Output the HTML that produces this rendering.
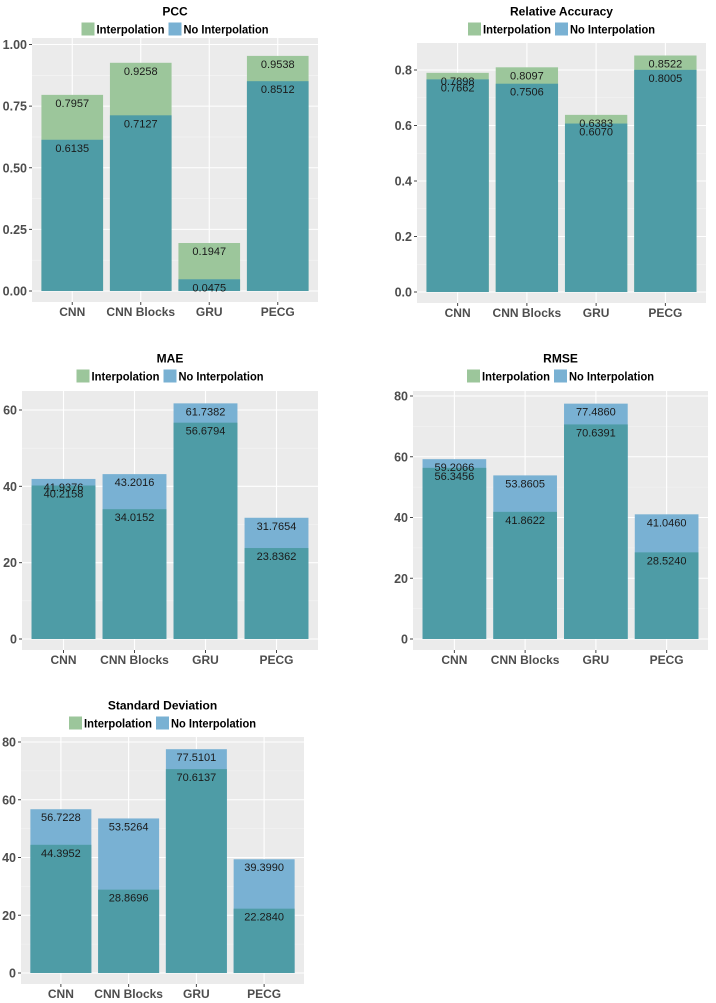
<!DOCTYPE html>
<html><head><meta charset="utf-8"><style>
html,body{margin:0;padding:0;background:#fff;}
svg{display:block;font-family:"Liberation Sans",Arial,sans-serif;}
</style></head><body>
<svg id="chart" width="716" height="1003" viewBox="0 0 716 1003"></svg>
<script>
const categories = ["CNN", "CNN Blocks", "GRU", "PECG"];
const pccInterp = [0.7957, 0.9258, 0.1947, 0.9538];
const pccNoInterp = [0.6135, 0.7127, 0.0475, 0.8512];
const raInterp = [0.7898, 0.8097, 0.6383, 0.8522];
const raNoInterp = [0.7662, 0.7506, 0.6070, 0.8005];
const maeInterp = [40.2158, 34.0152, 56.6794, 23.8362];
const maeNoInterp = [41.9376, 43.2016, 61.7382, 31.7654];
const rmseInterp = [56.3456, 41.8622, 70.6391, 28.5240];
const rmseNoInterp = [59.2066, 53.8605, 77.4860, 41.0460];
const sdInterp = [44.3952, 28.8696, 70.6137, 22.2840];
const sdNoInterp = [56.7228, 53.5264, 77.5101, 39.3990];
const pccTicks = [0, 0.25, 0.5, 0.75, 1.0];
const pccTickLabels = ["0.00", "0.25", "0.50", "0.75", "1.00"];
const raTicks = [0, 0.2, 0.4, 0.6, 0.8];
const raTickLabels = ["0.0", "0.2", "0.4", "0.6", "0.8"];
const maeTicks = [0, 20, 40, 60];
const maeTickLabels = ["0", "20", "40", "60"];
const rmseTicks = [0, 20, 40, 60, 80];
const rmseTickLabels = ["0", "20", "40", "60", "80"];
const sdTicks = [0, 20, 40, 60, 80];
const sdTickLabels = ["0", "20", "40", "60", "80"];

const NS = "http://www.w3.org/2000/svg";
const svg = document.getElementById("chart");
const TEAL = "#4e9ca6", GREEN = "#9cc69b", BLUE = "#79b1d3";

function mk(tag, attrs, parent) {
  const e = document.createElementNS(NS, tag);
  for (const k in attrs) e.setAttribute(k, attrs[k]);
  (parent || svg).appendChild(e);
  return e;
}

function panel(p) {
  const g = mk("g", {});
  
  
  const perUnit = (p.zeroPx - p.refPx) / p.refVal;
  const y = v => p.zeroPx - v * perUnit;
  const step = (p.x1 - p.x0 - 12) / 4;
  const cx = i => p.x0 + 6 + step * (i + 0.5);
  const bw = step * 0.9;
  const bg = mk("rect", {x: p.x0, y: p.y0, width: p.x1 - p.x0, height: p.y1 - p.y0, fill: "#ebebeb"}, g);
  
  
  for (let i = 0; i < p.ticks.length - 1; i++) {
    const m = (p.ticks[i] + p.ticks[i + 1]) / 2;
    mk("line", {x1: p.x0, x2: p.x1, y1: y(m), y2: y(m), stroke: "#f5f5f5", "stroke-width": 0.6}, g);
  }
  const last = p.ticks[p.ticks.length - 1], stepT = p.ticks[1] - p.ticks[0];
  if (y(last + stepT / 2) > p.y0) mk("line", {x1: p.x0, x2: p.x1, y1: y(last + stepT / 2), y2: y(last + stepT / 2), stroke: "#f5f5f5", "stroke-width": 0.6}, g);
  p.ticks.forEach((t, i) => {
    mk("line", {x1: p.x0, x2: p.x1, y1: y(t), y2: y(t), stroke: "#fff", "stroke-width": 1.1}, g);
    mk("line", {x1: p.x0 - 3, x2: p.x0, y1: y(t), y2: y(t), stroke: "#444", "stroke-width": 1}, g);
    const tl = mk("text", {x: p.x0 - 5, y: y(t) + 4.5, "text-anchor": "end", "font-size": 12.5, "font-weight": "bold", fill: "#4d4d4d"}, g);
    tl.textContent = p.tickLabels[i];
    
    
  });
  categories.forEach((c, i) => {
    mk("line", {x1: cx(i), x2: cx(i), y1: p.y0, y2: p.y1, stroke: "#fff", "stroke-width": 1.1}, g);
    mk("line", {x1: cx(i), x2: cx(i), y1: p.y1, y2: p.y1 + 3, stroke: "#444", "stroke-width": 1}, g);
    const xl = mk("text", {x: cx(i), y: p.y1 + 14, "text-anchor": "middle", "font-size": 12, "font-weight": "bold", fill: "#4d4d4d"}, g);
    xl.textContent = c;
    
    
  });
  categories.forEach((c, i) => {
    const a = p.interp[i], b = p.noInterp[i];
    const big = Math.max(a, b), small = Math.min(a, b);
    const bigColor = a >= b ? GREEN : BLUE;
    const r1 = mk("rect", {x: cx(i) - bw / 2, y: y(big), width: bw, height: y(0) - y(big), fill: bigColor}, g);
    
    
    const r2 = mk("rect", {x: cx(i) - bw / 2, y: y(small), width: bw, height: y(0) - y(small), fill: TEAL}, g);
    
    
    [a, b].forEach(v => {
      const t = mk("text", {x: cx(i), y: y(v) + 12, "text-anchor": "middle", "font-size": 11, fill: "#1a1a1a"}, g);
      t.textContent = v.toFixed(4);
      
      
    });
  });
  const mid = (p.x0 + p.x1) / 2;
  const ti = mk("text", {x: mid, y: p.titleY + 4.5, "text-anchor": "middle", "font-size": 12, "font-weight": "bold", fill: "#000"}, g);
  ti.textContent = p.title;
  
  
  const total = 187, lx = mid - total / 2, ly = p.legY;
  const k1 = mk("rect", {x: lx, y: ly - 6.5, width: 13, height: 13, fill: GREEN}, g);
  
  
  const t1 = mk("text", {x: lx + 15, y: ly + 4.5, "font-size": 12, "font-weight": "bold", fill: "#000", textLength: 68, lengthAdjust: "spacingAndGlyphs"}, g);
  t1.textContent = "Interpolation";
  
  
  const k2 = mk("rect", {x: lx + 87, y: ly - 6.5, width: 13, height: 13, fill: BLUE}, g);
  
  
  const t2 = mk("text", {x: lx + 102, y: ly + 4.5, "font-size": 12, "font-weight": "bold", fill: "#000", textLength: 85, lengthAdjust: "spacingAndGlyphs"}, g);
  t2.textContent = "No Interpolation";
  
  
}

panel({key: "pcc", title: "PCC", x0: 32, x1: 318, y0: 38, y1: 302, zeroPx: 291, refPx: 44.5, refVal: 1,
  ticks: pccTicks, tickLabels: pccTickLabels, interp: pccInterp, noInterp: pccNoInterp, titleY: 11, legY: 29});
panel({key: "relative-accuracy", title: "Relative Accuracy", x0: 417, x1: 706, y0: 43, y1: 303, zeroPx: 292, refPx: 70, refVal: 0.8,
  ticks: raTicks, tickLabels: raTickLabels, interp: raInterp, noInterp: raNoInterp, titleY: 11, legY: 29});
panel({key: "mae", title: "MAE", x0: 22, x1: 318, y0: 391, y1: 650, zeroPx: 639, refPx: 410, refVal: 60,
  ticks: maeTicks, tickLabels: maeTickLabels, interp: maeInterp, noInterp: maeNoInterp, titleY: 358, legY: 376});
panel({key: "rmse", title: "RMSE", x0: 413, x1: 708, y0: 391, y1: 650, zeroPx: 639, refPx: 396, refVal: 80,
  ticks: rmseTicks, tickLabels: rmseTickLabels, interp: rmseInterp, noInterp: rmseNoInterp, titleY: 358, legY: 376});
panel({key: "standard-deviation", title: "Standard Deviation", x0: 21, x1: 304, y0: 737, y1: 984, zeroPx: 973, refPx: 742, refVal: 80,
  ticks: sdTicks, tickLabels: sdTickLabels, interp: sdInterp, noInterp: sdNoInterp, titleY: 705, legY: 723});
</script>
</body></html>
